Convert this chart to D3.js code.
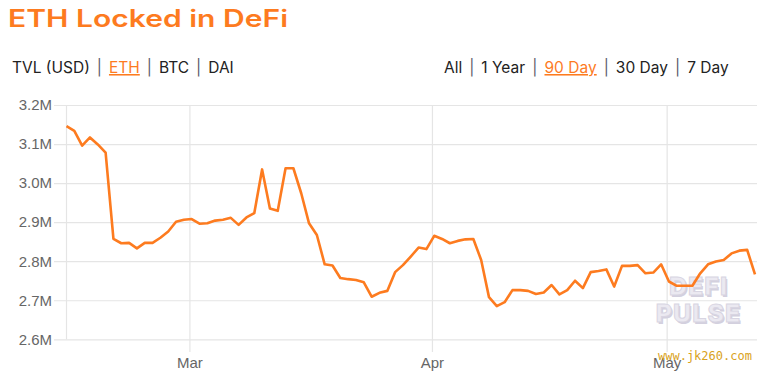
<!DOCTYPE html>
<html>
<head>
<meta charset="utf-8">
<script src="https://cdn.jsdelivr.net/npm/d3@7"></script>
<style>
  body { margin: 0; background: #fff; }
  svg { display: block; }
</style>
</head>
<body>
<div id="chart"></div>
<script>
// chart data (ETH locked, millions), one value per day from the start date
const startDate = "2020-02-14T07:00:00Z"
const ethLocked = [
  3.146, 3.134, 3.096, 3.117, 3.099, 3.078, 2.857, 2.846, 2.847, 2.833,
  2.847, 2.847, 2.860, 2.876, 2.901, 2.906, 2.908, 2.896, 2.897, 2.904,
  2.906, 2.911, 2.893, 2.912, 2.923, 3.035, 2.935, 2.929, 3.038, 3.038,
  2.974, 2.897, 2.867, 2.792, 2.789, 2.757, 2.754, 2.752, 2.746, 2.709,
  2.719, 2.724, 2.772, 2.790, 2.812, 2.835, 2.831, 2.865, 2.857, 2.846,
  2.852, 2.856, 2.857, 2.803, 2.708, 2.685, 2.695, 2.726, 2.726, 2.724,
  2.716, 2.720, 2.739, 2.715, 2.726, 2.750, 2.731, 2.772, 2.775, 2.779,
  2.735, 2.788, 2.788, 2.790, 2.769, 2.771, 2.792, 2.748, 2.737, 2.737,
  2.737, 2.769, 2.792, 2.799, 2.803, 2.820, 2.827, 2.829, 2.766
]
const monthTicks = ["2020-03-01", "2020-04-01", "2020-05-01"]
const yTicks = [2.6, 2.7, 2.8, 2.9, 3.0, 3.1, 3.2]

const unitTabs = ["TVL (USD)", "ETH", "BTC", "DAI"]
const activeUnit = "ETH"
const rangeTabs = ["All", "1 Year", "90 Day", "30 Day", "7 Day"]
const activeRange = "90 Day"

const W = 768, H = 375
const orange = "#fd7b1f"
const plot = { left: 66.5, right: 755, top: 105, bottom: 339.3 }

const start = new Date(startDate)
const data = ethLocked.map((v, i) => ({ date: d3.utcDay.offset(start, i), value: v }))

const svg = d3.select("#chart").append("svg")
  .attr("width", W)
  .attr("height", H)

// title
svg.append("text")
  .attr("x", 8)
  .attr("y", 27)
  .attr("fill", orange)
  .attr("textLength", 280)
  .attr("lengthAdjust", "spacingAndGlyphs")
  .style("font-family", "Inter, 'Open Sans', sans-serif")
  .style("font-size", "24px")
  .style("font-weight", 600)
  .text("ETH Locked in DeFi")

// tab rows
function tabs(x, labels, active) {
  const t = svg.append("text")
    .attr("x", x)
    .attr("y", 73)
    .style("font-family", "Inter, 'Open Sans', sans-serif")
    .style("font-size", "15.5px")
    .attr("fill", "#222")
  labels.forEach((l, i) => {
    if (i > 0) {
      t.append("tspan").attr("dx", 7).attr("fill", "#5a5a6a").text("|")
    }
    const s = t.append("tspan").attr("dx", i > 0 ? 7 : 0).text(l)
    if (l === active) s.attr("fill", orange).style("text-decoration", "underline")
  })
}
tabs(12, unitTabs, activeUnit)
tabs(444, rangeTabs, activeRange)

// scales
const x = d3.scaleUtc()
  .domain(d3.extent(data, d => d.date))
  .range([plot.left, plot.right])

const y = d3.scaleLinear()
  .domain([2.6, 3.2])
  .range([plot.bottom, plot.top])

// y grid + labels
const yAxis = d3.axisLeft(y)
  .tickValues(yTicks)
  .tickSize(-(plot.right + 2 - 54))
  .tickPadding(2)
  .tickFormat(d => d3.format(".1f")(d) + "M")

svg.append("g")
  .attr("class", "y-axis")
  .attr("transform", "translate(54,0)")
  .call(yAxis)
  .call(g => g.select(".domain").remove())

// x grid + labels
const xAxis = d3.axisBottom(x)
  .tickValues(monthTicks.map(d => new Date(d + "T00:00:00Z")))
  .tickSize(-(352 - plot.top))
  .tickPadding(5)
  .tickFormat(d3.utcFormat("%b"))

svg.append("g")
  .attr("class", "x-axis")
  .attr("transform", "translate(0,352)")
  .call(xAxis)
  .call(g => g.select(".domain").remove())

svg.selectAll(".tick line")
  .attr("stroke", "#e5e5e5")
  .attr("stroke-width", 1.2)
svg.selectAll(".tick text")
  .attr("fill", "#666")
  .style("font-family", "'Liberation Sans', Arial, sans-serif")
  .style("font-size", "15px")

// left axis line
svg.append("line")
  .attr("x1", plot.left).attr("x2", plot.left)
  .attr("y1", plot.top).attr("y2", plot.bottom)
  .attr("stroke", "#e5e5e5")
  .attr("stroke-width", 1.2)

// DeFi Pulse watermark
const wm = svg.append("g")
  .style("font-family", "Inter, 'Open Sans', sans-serif")
  .style("font-weight", 800)
  .style("font-size", "25px")
  .style("letter-spacing", "1px")
  .attr("text-anchor", "middle")
;[["DEFI", 295], ["PULSE", 322]].forEach(([t, yy]) => {
  wm.append("text").attr("x", 700).attr("y", yy + 1.5).attr("fill", "#d3d0de").text(t)
  wm.append("text").attr("x", 698.5).attr("y", yy).attr("fill", "#ebe9f1")
    .attr("stroke", "#d8d5e2").attr("stroke-width", 1).text(t)
})

// line
const line = d3.line()
  .x(d => x(d.date))
  .y(d => y(d.value))

svg.append("path")
  .datum(data)
  .attr("fill", "none")
  .attr("stroke", orange)
  .attr("stroke-width", 2.6)
  .attr("stroke-linejoin", "round")
  .attr("d", line)

// site watermark
svg.append("text")
  .attr("x", 658)
  .attr("y", 360)
  .attr("fill", "#d9a21b")
  .style("font-family", "'DejaVu Sans Mono', monospace")
  .style("font-size", "12px")
  .text("www.jk260.com")
</script>
</body>
</html>
